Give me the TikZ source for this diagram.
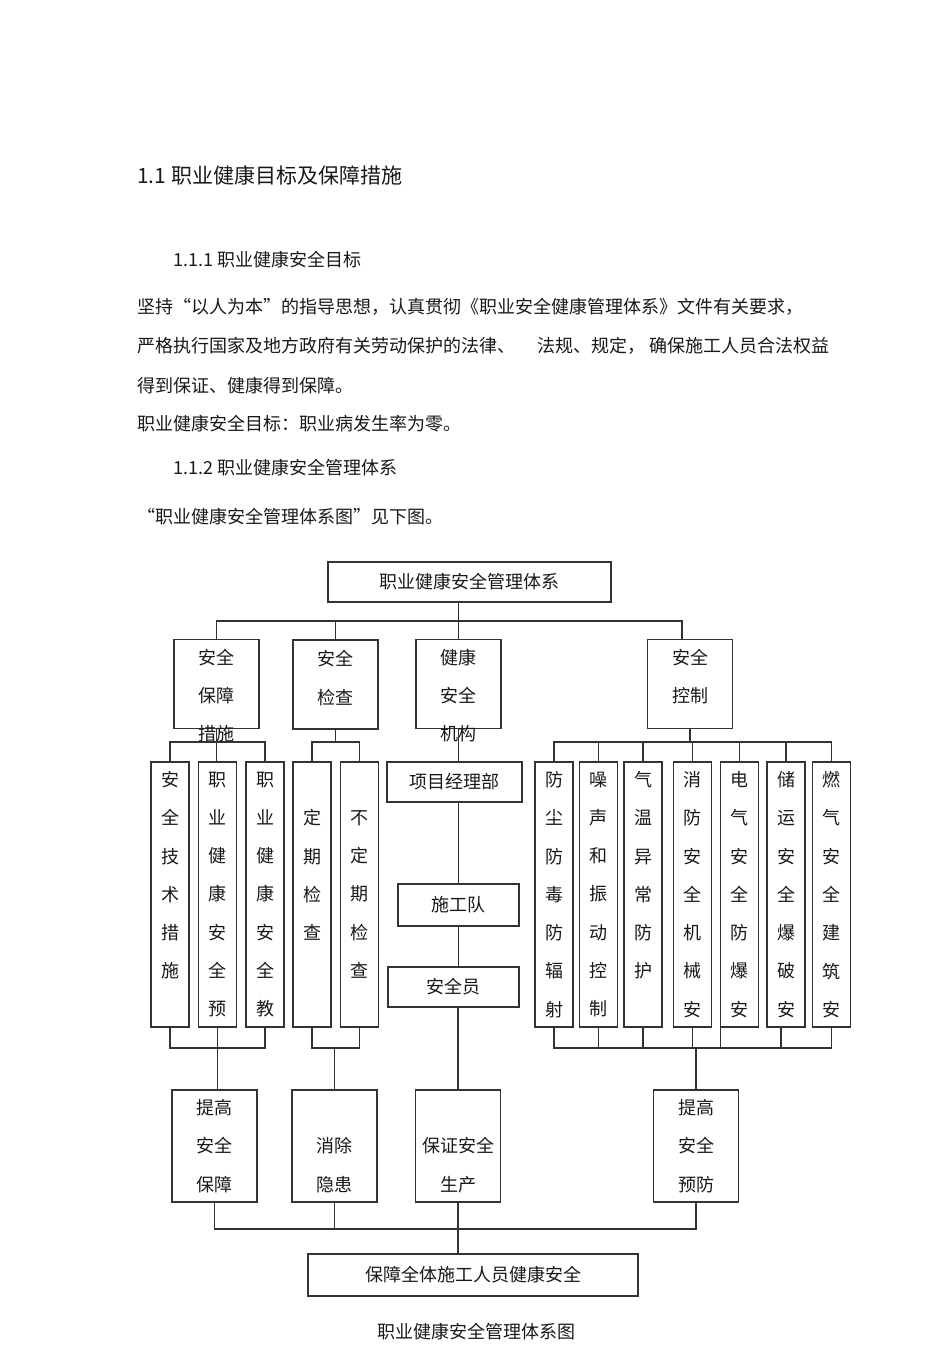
\documentclass[tikz,border=0pt]{standalone}
\usepackage{fontspec}
\setmainfont{Noto Sans CJK SC}
\usetikzlibrary{positioning}

\tikzset{
  para/.style={anchor=west, inner sep=0pt, text=black!90, font=\fontsize{18}{18}\selectfont},
  cn/.style={inner sep=0pt, align=center, text=black!90, font=\fontsize{18}{38.3}\selectfont},
  wbox/.style={cn, draw=black!80, line width=1.3pt, minimum height=40pt},
  midbox/.style={draw=black!80, line width=1.3pt, minimum width=85pt, minimum height=89pt},
  tbox/.style={cn, draw=black!80, line width=1.3pt, minimum width=38pt, minimum height=265pt,
    execute at begin node=\rule{0pt}{24pt}},
  lbox/.style={cn, draw=black!80, line width=1.3pt, minimum width=85pt, minimum height=112pt,
    execute at begin node=\rule{0pt}{26pt}},
  link/.style={draw=black!80, line width=1.3pt}
}

\begin{document}
\begin{tikzpicture}[x=1pt, y=-1pt]
  \fill[white] (0,0) rectangle (950,1345);
  \useasboundingbox (0,0) rectangle (950,1345);

  % Page text
  \node[para, font=\fontsize{21}{21}\selectfont] (h1) at (137,175) {1.1 职业健康目标及保障措施};
  \node[para] (h11) at (173,260) {1.1.1 职业健康安全目标};
  \node[para] (p1) at (137,307) {坚持“以人为本”的指导思想，认真贯彻《职业安全健康管理体系》文件有关要求，};
  \node[para] (p2) at (137,346) {严格执行国家及地方政府有关劳动保护的法律、\hspace{22pt}法规、规定，\hspace{4pt}确保施工人员合法权益};
  \node[para] (p3) at (137,386) {得到保证、健康得到保障。};
  \node[para] (p4) at (137,424) {职业健康安全目标：职业病发生率为零。};
  \node[para] (h12) at (173,468) {1.1.2 职业健康安全管理体系};
  \node[para] (p5) at (137,517) {“职业健康安全管理体系图”见下图。};

  % Top box
  \node[wbox, minimum width=283pt] (sys) at (469.5,582) {职业健康安全管理体系};

  % Second row
  \node[midbox] (ssm) at (216.5,684) {};
  \node[cn, below=10pt of ssm.north] (ssmT) {安全\\保障\\措施};
  \node[midbox] (sjc) at (335.5,684.5) {};
  \node[cn, below=11pt of sjc.north] (sjcT) {安全\\检查};
  \node[midbox] (jkjg) at (458.5,684) {};
  \node[cn, below=10pt of jkjg.north] (jkjgT) {健康\\安全\\机构};
  \node[midbox] (aqkz) at (690,684) {};
  \node[cn, below=10pt of aqkz.north] (aqkzT) {安全\\控制};

  % Third row
  \node[tbox] (t1) at (170,894.5) {安\\全\\技\\术\\措\\施\\\phantom{安}};
  \node[tbox] (t2) at (217.5,894.5) {职\\业\\健\\康\\安\\全\\预};
  \node[tbox] (t3) at (265,894.5) {职\\业\\健\\康\\安\\全\\教};
  \node[tbox] (c1) at (312,894.5) {\phantom{定}\\定\\期\\检\\查\\\phantom{定}\\\phantom{定}};
  \node[tbox] (c2) at (359.5,894.5) {\phantom{不}\\不\\定\\期\\检\\查\\\phantom{不}};

  \node[wbox, minimum width=135pt] (xmb) at (454.5,782) {项目经理部};
  \node[wbox, minimum width=121pt, minimum height=42pt] (sgd) at (458.5,905) {施工队};
  \node[wbox, minimum width=131pt] (aqy) at (453.5,987) {安全员};

  \node[tbox] (k1) at (554,894.5) {防\\尘\\防\\毒\\防\\辐\\射};
  \node[tbox] (k2) at (598.5,894.5) {噪\\声\\和\\振\\动\\控\\制};
  \node[tbox] (k3) at (643,894.5) {气\\温\\异\\常\\防\\护\\\phantom{气}};
  \node[tbox] (k4) at (692.5,894.5) {消\\防\\安\\全\\机\\械\\安};
  \node[tbox] (k5) at (739.5,894.5) {电\\气\\安\\全\\防\\爆\\安};
  \node[tbox] (k6) at (786,894.5) {储\\运\\安\\全\\爆\\破\\安};
  \node[tbox] (k7) at (831.5,894.5) {燃\\气\\安\\全\\建\\筑\\安};

  % Fourth row
  \node[lbox] (g1) at (214.5,1146) {提高\\安全\\保障};
  \node[lbox] (g2) at (334.5,1146) {\phantom{消除}\\消除\\隐患};
  \node[lbox] (g3) at (458,1146) {\phantom{保证}\\保证安全\\生产};
  \node[lbox] (g4) at (696,1146) {提高\\安全\\预防};

  % Bottom box and caption
  \node[wbox, minimum width=330pt, minimum height=42pt] (all) at (473,1275) {保障全体施工人员健康安全};
  \node[cn] (cap) at (476,1332) {职业健康安全管理体系图};

  % Bus lines
  \coordinate (bus1) at (0,621);
  \coordinate (bus2) at (0,742);
  \coordinate (bus3) at (0,1048);
  \coordinate (bus4) at (0,1229);

  % Top box to second row
  \draw[link] (sys.south -| jkjg.north) -- (jkjg.north);
  \draw[link] (ssm.north) -- (ssm.north |- bus1) -- ([xshift=-8pt]aqkz.north |- bus1) -- ([xshift=-8pt]aqkz.north);
  \draw[link] (sjc.north) -- (sjc.north |- bus1);

  % Second row to third row
  \draw[link] (ssm.south) -- (ssm.south |- t2.north);
  \draw[link] (t1.north) -- (t1.north |- bus2) -- (t3.north |- bus2) -- (t3.north);
  \draw[link] (sjc.south) -- (sjc.south |- bus2);
  \draw[link] (c1.north) -- (c1.north |- bus2) -- (c2.north |- bus2) -- (c2.north);
  \draw[link] (jkjg.south) -- (jkjg.south |- xmb.north);
  \draw[link] (xmb.south -| jkjg.south) -- (sgd.north -| jkjg.south);
  \draw[link] (sgd.south -| jkjg.south) -- (aqy.north -| jkjg.south);
  \draw[link] (aqkz.south) -- (aqkz.south |- bus2);
  \draw[link] (k1.north) -- (k1.north |- bus2) -- (k7.north |- bus2) -- (k7.north);
  \draw[link] (k2.north) -- (k2.north |- bus2);
  \draw[link] (k3.north) -- (k3.north |- bus2);
  \draw[link] (k4.north) -- (k4.north |- bus2);
  \draw[link] (k5.north) -- (k5.north |- bus2);
  \draw[link] (k6.north) -- (k6.north |- bus2);

  % Third row to fourth row
  \draw[link] (t1.south) -- (t1.south |- bus3) -- (t3.south |- bus3) -- (t3.south);
  \draw[link] (t2.south) -- (t2.south |- g1.north);
  \draw[link] (c1.south) -- (c1.south |- bus3) -- (c2.south |- bus3) -- (c2.south);
  \draw[link] (g2.north |- bus3) -- (g2.north);
  \draw[link] (aqy.south -| g3.north) -- (g3.north);
  \draw[link] (k1.south) -- (k1.south |- bus3) -- (k7.south |- bus3) -- (k7.south);
  \draw[link] (k2.south) -- (k2.south |- bus3);
  \draw[link] (k3.south) -- (k3.south |- bus3);
  \draw[link] (k4.south) -- (k4.south |- bus3);
  \draw[link] ([xshift=-19pt]k5.south) -- ([xshift=-19pt]k5.south |- bus3);
  \draw[link] ([xshift=-5pt]k6.south) -- ([xshift=-5pt]k6.south |- bus3);
  \draw[link] (g4.north |- bus3) -- (g4.north);

  % Fourth row to bottom box
  \draw[link] (g1.south) -- (g1.south |- bus4) -- (g4.south |- bus4) -- (g4.south);
  \draw[link] (g2.south) -- (g2.south |- bus4);
  \draw[link] (g3.south) -- (g3.south |- all.north);
\end{tikzpicture}
\end{document}
